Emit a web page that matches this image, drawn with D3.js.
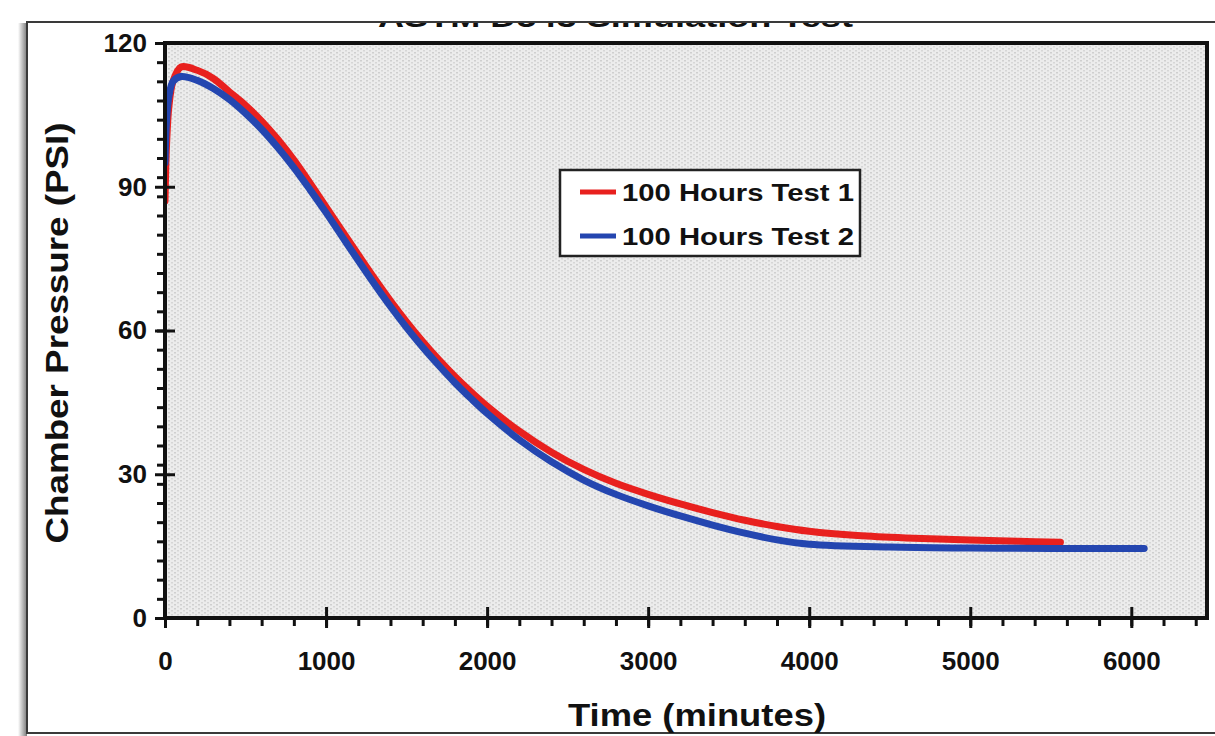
<!DOCTYPE html>
<html>
<head>
<meta charset="utf-8">
<script src="https://cdn.jsdelivr.net/npm/d3@7"></script>
<style>
  body { margin: 0; background: #fff; }
  text { font-family: "Liberation Sans", Arial, sans-serif; font-weight: bold; fill: #111; }
</style>
</head>
<body>
<div id="container"></div>
<script>
//DATA
const test1Time = [0, 10, 25, 50, 100, 200, 300, 400, 500, 600, 700, 800, 900, 1000, 1100, 1200, 1300, 1400, 1500, 1600, 1700, 1800, 1900, 2000, 2200, 2400, 2600, 2800, 3000, 3200, 3400, 3600, 3800, 4000, 4300, 4600, 5000, 5300, 5560]
const test1Psi = [87, 99, 107, 112, 115, 114.3, 112.6, 109.8, 107, 103.7, 99.9, 95.6, 90.8, 85.8, 80.8, 75.8, 70.9, 66.2, 61.8, 57.7, 53.9, 50.4, 47.2, 44.2, 39, 34.6, 31, 28.1, 25.8, 23.8, 22, 20.4, 19.1, 18.1, 17.2, 16.7, 16.3, 16, 15.8]

const test2Time = [0, 10, 25, 50, 100, 200, 300, 400, 500, 600, 700, 800, 900, 1000, 1100, 1200, 1300, 1400, 1500, 1600, 1700, 1800, 1900, 2000, 2200, 2400, 2600, 2800, 3000, 3200, 3400, 3600, 3800, 4000, 4500, 5000, 5500, 6080]
const test2Psi = [95, 104, 109, 112, 113, 112.2, 110.5, 108.2, 105.3, 102, 98.2, 94, 89.4, 84.6, 79.6, 74.6, 69.7, 65, 60.6, 56.5, 52.7, 49.1, 45.8, 42.7, 37.2, 32.6, 28.8, 25.8, 23.4, 21.3, 19.4, 17.7, 16.3, 15.4, 14.8, 14.6, 14.5, 14.5]

const seriesNames = ['100 Hours Test 1', '100 Hours Test 2']
const seriesColors = ['#e8201e', '#2446b0']

const xTicks = [0, 1000, 2000, 3000, 4000, 5000, 6000]
const yTicks = [0, 30, 60, 90, 120]
const xMinor = d3.range(0, 6470, 200)
const yMinor = d3.range(0, 121, 4)

const titleText = 'ASTM D543 Simulation Test'
const xLabel = 'Time (minutes)'
const yLabel = 'Chamber Pressure (PSI)'

//BOX
const w = 1215
const h = 736
const plot = {left: 165, top: 43, right: 1207, bottom: 618}

//SCALES
const xscale = d3.scaleLinear().domain([0, 6470]).range([plot.left, plot.right])
const yscale = d3.scaleLinear().domain([0, 120]).range([plot.bottom, plot.top])

const svg = d3.select('#container')
    .append('svg')
    .attr('width', w)
    .attr('height', h)

const defs = svg.append('defs')

//dotted plot background
const pat = defs.append('pattern')
    .attr('id', 'dots')
    .attr('width', 6)
    .attr('height', 4)
    .attr('patternUnits', 'userSpaceOnUse')
pat.append('rect').attr('width', 6).attr('height', 4).attr('fill', '#ececec')
pat.append('rect').attr('x', 0).attr('y', 0).attr('width', 2).attr('height', 1.5).attr('fill', '#cfcfcf')
pat.append('rect').attr('x', 3).attr('y', 2).attr('width', 2).attr('height', 1.5).attr('fill', '#d6d6d6')

const shade = defs.append('linearGradient').attr('id', 'shade')
shade.append('stop').attr('offset', '0%').attr('stop-color', '#ffffff')
shade.append('stop').attr('offset', '100%').attr('stop-color', '#7a7a7a')

defs.append('clipPath')
    .attr('id', 'chart-area')
    .append('rect')
    .attr('x', plot.left)
    .attr('y', plot.top)
    .attr('width', plot.right - plot.left)
    .attr('height', plot.bottom - plot.top)

defs.append('clipPath')
    .attr('id', 'title-cut')
    .append('rect')
    .attr('x', 0)
    .attr('y', 23)
    .attr('width', w)
    .attr('height', 20)

//OUTER FRAME
svg.append('rect')
    .attr('x', 18).attr('y', 23).attr('width', 9).attr('height', h - 23)
    .attr('fill', 'url(#shade)')
svg.append('rect')
    .attr('x', 27).attr('y', 22).attr('width', w).attr('height', 711)
    .attr('fill', '#fff')
    .attr('stroke', '#3a3a3a')
    .attr('stroke-width', 2)

//TITLE (cut off by frame)
svg.append('text')
    .attr('clip-path', 'url(#title-cut)')
    .attr('x', 378)
    .attr('y', 27)
    .attr('font-size', 28)
    .attr('textLength', 475)
    .attr('lengthAdjust', 'spacingAndGlyphs')
    .text(titleText)

//PLOT BACKGROUND
svg.append('rect')
    .attr('x', plot.left).attr('y', plot.top)
    .attr('width', plot.right - plot.left)
    .attr('height', plot.bottom - plot.top)
    .attr('fill', 'url(#dots)')

//LINES
const line = d3.line()
    .x(d => xscale(d[0]))
    .y(d => yscale(d[1]))
    .curve(d3.curveCatmullRom.alpha(0.5))

const series = [
    d3.zip(test1Time, test1Psi),
    d3.zip(test2Time, test2Psi)
]

svg.append('g')
    .attr('clip-path', 'url(#chart-area)')
    .selectAll('path')
    .data(series)
    .enter()
    .append('path')
    .attr('d', line)
    .attr('fill', 'none')
    .attr('stroke', (d, i) => seriesColors[i])
    .attr('stroke-width', 7)
    .attr('stroke-linecap', 'round')
    .attr('stroke-linejoin', 'round')

//PLOT BORDER
svg.append('rect')
    .attr('x', plot.left).attr('y', plot.top)
    .attr('width', plot.right - plot.left)
    .attr('height', plot.bottom - plot.top)
    .attr('fill', 'none')
    .attr('stroke', '#111')
    .attr('stroke-width', 4)

//MINOR TICKS
svg.append('g')
    .attr('transform', 'translate(0,' + plot.bottom + ')')
    .call(d3.axisBottom(xscale).tickValues(xMinor).tickSize(8).tickFormat(''))
    .call(g => g.select('.domain').remove())
    .selectAll('line').attr('stroke', '#111').attr('stroke-width', 3)

svg.append('g')
    .attr('transform', 'translate(' + plot.left + ',0)')
    .call(d3.axisLeft(yscale).tickValues(yMinor).tickSize(8).tickFormat(''))
    .call(g => g.select('.domain').remove())
    .selectAll('line').attr('stroke', '#111').attr('stroke-width', 3)

//MAJOR TICKS + LABELS
const xaxis = svg.append('g')
    .attr('class', 'x axis')
    .attr('transform', 'translate(0,' + plot.bottom + ')')
    .call(d3.axisBottom(xscale).tickValues(xTicks).tickSize(10).tickPadding(24).tickFormat(d3.format('d')))
    .call(g => g.select('.domain').remove())
xaxis.selectAll('line')
    .attr('y1', -11).attr('y2', 10)
    .attr('stroke', '#111').attr('stroke-width', 3)
xaxis.selectAll('text')
    .attr('font-size', 26)
    .attr('font-family', '"Liberation Sans", Arial, sans-serif')
    .attr('font-weight', 'bold')
    .attr('fill', '#111')

const yaxis = svg.append('g')
    .attr('class', 'y axis')
    .attr('transform', 'translate(' + plot.left + ',0)')
    .call(d3.axisLeft(yscale).tickValues(yTicks).tickSize(10).tickPadding(8))
    .call(g => g.select('.domain').remove())
yaxis.selectAll('line')
    .attr('x1', 10).attr('x2', -10)
    .attr('stroke', '#111').attr('stroke-width', 3)
yaxis.selectAll('text')
    .attr('font-size', 26)
    .attr('font-family', '"Liberation Sans", Arial, sans-serif')
    .attr('font-weight', 'bold')
    .attr('fill', '#111')

//AXIS TITLES
svg.append('text')
    .attr('x', 697)
    .attr('y', 726)
    .attr('text-anchor', 'middle')
    .attr('font-size', 31)
    .attr('textLength', 258)
    .attr('lengthAdjust', 'spacingAndGlyphs')
    .text(xLabel)

svg.append('text')
    .attr('transform', 'translate(68,333) rotate(-90)')
    .attr('text-anchor', 'middle')
    .attr('font-size', 31)
    .attr('textLength', 421)
    .attr('lengthAdjust', 'spacingAndGlyphs')
    .text(yLabel)

//LEGEND
const legend = svg.append('g').attr('transform', 'translate(560,170)')
legend.append('rect')
    .attr('width', 300).attr('height', 86)
    .attr('fill', '#fff')
    .attr('stroke', '#222')
    .attr('stroke-width', 2.5)

const item = legend.selectAll('g.item')
    .data(seriesNames)
    .enter()
    .append('g')
    .attr('class', 'item')
    .attr('transform', (d, i) => 'translate(0,' + (22 + i * 44) + ')')
item.append('line')
    .attr('x1', 20).attr('x2', 56)
    .attr('stroke', (d, i) => seriesColors[i])
    .attr('stroke-width', 5)
item.append('text')
    .attr('x', 62)
    .attr('y', 9)
    .attr('font-size', 24)
    .attr('textLength', 232)
    .attr('lengthAdjust', 'spacingAndGlyphs')
    .text(d => d)
</script>
</body>
</html>
